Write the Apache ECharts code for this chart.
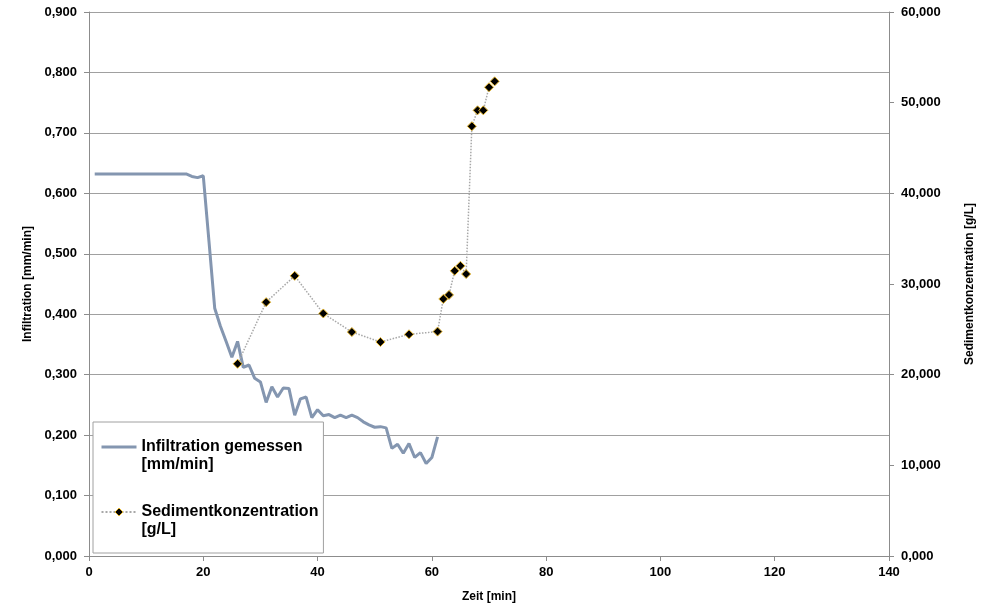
<!DOCTYPE html>
<html>
<head>
<meta charset="utf-8">
<script src="https://cdn.jsdelivr.net/npm/echarts@6/dist/echarts.min.js"></script>
<style>html,body{margin:0;padding:0;background:#fff;}#c{width:989px;height:608px;}</style>
</head>
<body>
<div id="c"></div>
<script>
// Infiltration gemessen [mm/min], 1-min steps
const infTime = [1,2,3,4,5,6,7,8,9,10,11,12,13,14,15,16,17,18,19,20,21,22,23,24,25,26,27,28,29,30,31,32,33,34,35,36,37,38,39,40,41,42,43,44,45,46,47,48,49,50,51,52,53,54,55,56,57,58,59,60,61];
const infValues = [0.632,0.632,0.632,0.632,0.632,0.632,0.632,0.632,0.632,0.632,0.632,0.632,0.632,0.632,0.632,0.632,0.632,0.628,0.626,0.629,0.520,0.410,0.380,0.355,0.329,0.355,0.312,0.316,0.294,0.288,0.254,0.280,0.263,0.278,0.277,0.233,0.260,0.263,0.229,0.242,0.232,0.234,0.229,0.233,0.229,0.233,0.229,0.222,0.217,0.213,0.214,0.212,0.178,0.185,0.170,0.186,0.163,0.171,0.153,0.163,0.197];
// Sedimentkonzentration [g/L]
const sedTime = [26,31,36,41,46,51,56,61,62,63,64,65,66,67,68,69,70,71];
const sedValues = [21200,28000,30900,26750,24700,23600,24450,24750,28350,28800,31450,32000,31100,47400,49150,49150,51700,52350];

const xTicks = {min:0, max:140, interval:20};
const leftTicks = {min:0, max:0.9, interval:0.1};
const rightTicks = {min:0, max:60000, interval:10000};

const names = {
  inf: 'Infiltration gemessen',
  sed: 'Sedimentkonzentration'
};
const units = {};
units[names.inf] = '[mm/min]';
units[names.sed] = '[g/L]';

const font = 'Liberation Sans, Arial, sans-serif';
const axisGray = '#8c8c8c';
const gridGray = '#a0a0a0';
const lineColor = '#8496b0';
const diamondBorder = '#e8b830';

const chart = echarts.init(document.getElementById('c'));
chart.setOption({
  animation: false,
  backgroundColor: '#fff',
  grid: {left: 89, right: 100, top: 12, bottom: 50, containLabel: false},
  legend: {
    orient: 'vertical',
    left: 93, top: 422,
    padding: [0, 5, 15, 7],
    itemGap: 14,
    itemWidth: 35,
    itemHeight: 10,
    backgroundColor: '#fff',
    borderColor: '#a0a0a0',
    borderWidth: 1,
    borderRadius: 0,
    formatter: n => '{s|x}\n{t|' + n + '}\n{t|' + units[n] + '}',
    textStyle: {
      fontFamily: font, fontWeight: 'bold', fontSize: 16, color: '#000',
      rich: {
        s: {fontSize: 14, lineHeight: 18, color: 'rgba(0,0,0,0)'},
        t: {fontFamily: font, fontWeight: 'bold', fontSize: 16, color: '#000', lineHeight: 18}
      }
    },
    data: [
      {name: names.inf, itemStyle: {opacity: 0}, lineStyle: {color: lineColor, width: 3}},
      {name: names.sed, itemStyle: {color: '#000', borderColor: diamondBorder, borderWidth: 1}}
    ]
  },
  xAxis: {
    type: 'value', min: xTicks.min, max: xTicks.max, interval: xTicks.interval,
    name: 'Zeit [min]', nameLocation: 'middle', nameGap: 35,
    nameTextStyle: {fontFamily: font, fontWeight: 'bold', fontSize: 12, color: '#000'},
    axisLine: {lineStyle: {color: axisGray}},
    axisTick: {show: true, length: 5, lineStyle: {color: axisGray}},
    axisLabel: {fontFamily: font, fontWeight: 'bold', fontSize: 13, color: '#000', margin: 10},
    splitLine: {show: false}
  },
  yAxis: [{
    type: 'value', position: 'left', min: leftTicks.min, max: leftTicks.max, interval: leftTicks.interval,
    name: 'Infiltration [mm/min]', nameLocation: 'middle', nameGap: 52,
    nameTextStyle: {fontFamily: font, fontWeight: 'bold', fontSize: 12, color: '#000'},
    axisLine: {show: true, lineStyle: {color: axisGray}},
    axisTick: {show: true, length: 5, lineStyle: {color: axisGray}},
    axisLabel: {fontFamily: font, fontWeight: 'bold', fontSize: 13, color: '#000', margin: 12,
      formatter: v => v.toFixed(3).replace('.', ',')},
    splitLine: {show: true, lineStyle: {color: gridGray, width: 1}}
  }, {
    type: 'value', position: 'right', min: rightTicks.min, max: rightTicks.max, interval: rightTicks.interval,
    name: 'Sedimentkonzentration [g/L]', nameLocation: 'middle', nameGap: 75, nameRotate: 90,
    nameTextStyle: {fontFamily: font, fontWeight: 'bold', fontSize: 12, color: '#000'},
    axisLine: {show: true, lineStyle: {color: axisGray}},
    axisTick: {show: true, length: 5, lineStyle: {color: axisGray}},
    axisLabel: {fontFamily: font, fontWeight: 'bold', fontSize: 13, color: '#000', margin: 12,
      formatter: v => (v / 1000).toFixed(3).replace('.', ',')},
    splitLine: {show: false}
  }],
  series: [{
    name: names.inf,
    type: 'line',
    yAxisIndex: 0,
    data: infTime.map((t, i) => [t, infValues[i]]),
    showSymbol: false,
    symbol: 'none',
    lineStyle: {color: lineColor, width: 3},
    itemStyle: {color: lineColor},
    z: 3
  }, {
    name: names.sed,
    type: 'line',
    yAxisIndex: 1,
    data: sedTime.map((t, i) => [t, sedValues[i]]),
    symbol: 'diamond',
    symbolSize: 9,
    lineStyle: {color: '#a8a8a8', width: 1.5, type: 'dotted'},
    itemStyle: {color: '#000', borderColor: diamondBorder, borderWidth: 1},
    z: 4
  }]
});
</script>
</body>
</html>
